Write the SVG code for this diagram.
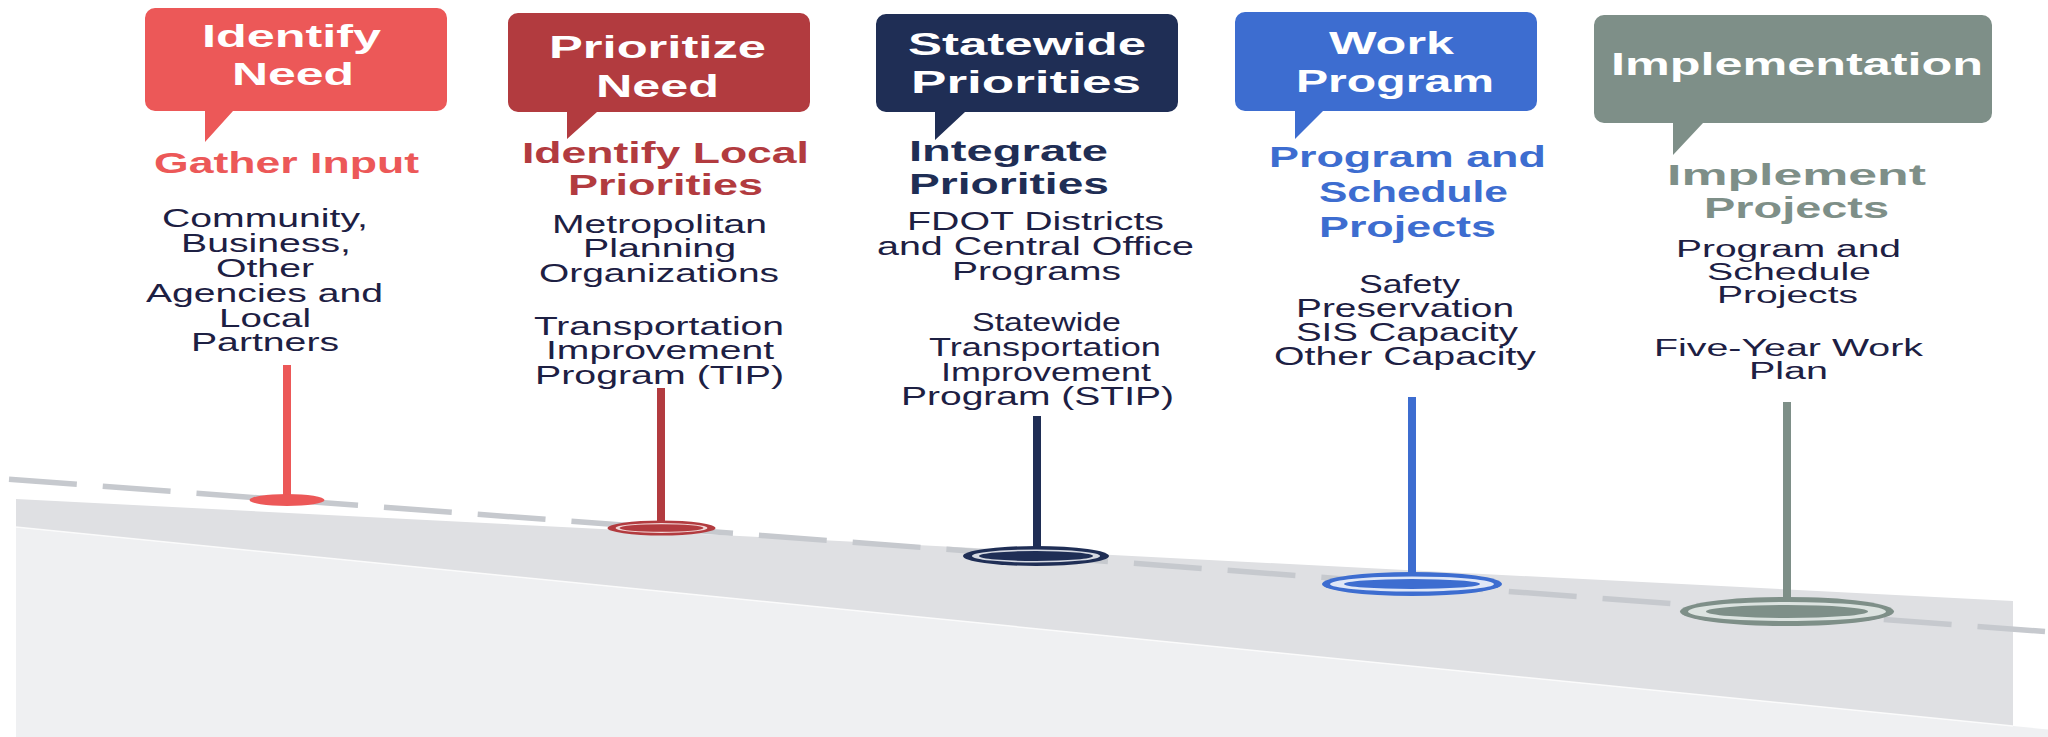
<svg xmlns="http://www.w3.org/2000/svg" width="2048" height="737" viewBox="0 0 2048 737">
<style>
.ttl{font-family:"Liberation Sans",Arial,sans-serif;font-weight:bold;font-size:31px;fill:#fff;text-anchor:middle}
.sub{font-family:"Liberation Sans",Arial,sans-serif;font-weight:bold;font-size:29.5px;text-anchor:middle}
.body{font-family:"Liberation Sans",Arial,sans-serif;font-size:25.5px;fill:#1d2043;text-anchor:middle}
.tight{font-size:23.5px}
.stem{stroke-width:8;fill:none}
.c1{fill:#ec5858}.s1{stroke:#ec5858}
.c2{fill:#b23b3f}.s2{stroke:#b23b3f}
.c3{fill:#1f2e55}.s3{stroke:#1f2e55}
.c4{fill:#3d6dd0}.s4{stroke:#3d6dd0}
.c5{fill:#7e8f88}.s5{stroke:#7e8f88}
</style>
<rect x="0" y="0" width="2048" height="737" fill="#ffffff"/>
<g id="road">
<polygon points="16,527 2013,726 2048,729.5 2048,737 16,737" fill="#eff0f2"/>
<polygon points="16,499 2013,601 2013,726 16,527" fill="#dfe0e3"/>
<line x1="16" y1="527" x2="2013" y2="726" stroke="#ffffff" stroke-width="1.5" opacity="0.8"/>
<line x1="9" y1="479.2" x2="2045" y2="631.5" stroke="#c6c9ce" stroke-width="5.5" stroke-dasharray="68 26"/>
</g>
<g id="connectors">
<line class="stem s1" x1="287" y1="365" x2="287" y2="500"/>
<line class="stem s2" x1="661" y1="388" x2="661" y2="528"/>
<line class="stem s3" x1="1037" y1="416" x2="1037" y2="556"/>
<line class="stem s4" x1="1412" y1="397" x2="1412" y2="584"/>
<line class="stem s5" x1="1787" y1="402" x2="1787" y2="611"/>
</g>
<g id="pins">
<ellipse class="c1" cx="287" cy="500" rx="37.5" ry="6"/>
<ellipse class="c2" cx="661.5" cy="528" rx="54" ry="7.5"/>
<ellipse fill="#f1d6d6" cx="661.5" cy="528" rx="46" ry="5"/>
<ellipse class="c2" cx="661.5" cy="528" rx="42" ry="3.8"/>
<ellipse class="c3" cx="1036" cy="556" rx="73" ry="10"/>
<ellipse fill="#d5d9e2" cx="1036" cy="556" rx="64" ry="6.5"/>
<ellipse class="c3" cx="1036" cy="556" rx="57" ry="5"/>
<ellipse class="c4" cx="1412" cy="584" rx="90" ry="12"/>
<ellipse fill="#dfe7f7" cx="1412" cy="584" rx="82" ry="7.5"/>
<ellipse class="c4" cx="1412" cy="584" rx="68" ry="5"/>
<ellipse class="c5" cx="1787" cy="611.5" rx="107" ry="14.5"/>
<ellipse fill="#dce3e0" cx="1787" cy="611.5" rx="99" ry="9.5"/>
<ellipse class="c5" cx="1787" cy="611.5" rx="81" ry="6.5"/>
</g>
<g id="node-identify-need">
<path class="c1" d="M155,8 H437 A10,10 0 0 1 447,18 V101 A10,10 0 0 1 437,111 H233 L205,142 V111 H155 A10,10 0 0 1 145,101 V18 A10,10 0 0 1 155,8 Z"/>
<text class="ttl" x="291.5" y="47" textLength="179" lengthAdjust="spacingAndGlyphs">Identify</text>
<text class="ttl" x="293" y="85" textLength="122" lengthAdjust="spacingAndGlyphs">Need</text>
<text class="sub c1" x="286.5" y="173" textLength="265" lengthAdjust="spacingAndGlyphs">Gather Input</text>
<text class="body" x="265" y="227" textLength="206" lengthAdjust="spacingAndGlyphs">Community,</text>
<text class="body" x="266" y="252" textLength="170" lengthAdjust="spacingAndGlyphs">Business,</text>
<text class="body" x="265" y="277" textLength="98" lengthAdjust="spacingAndGlyphs">Other</text>
<text class="body" x="264.5" y="302" textLength="237" lengthAdjust="spacingAndGlyphs">Agencies and</text>
<text class="body" x="265" y="327" textLength="92" lengthAdjust="spacingAndGlyphs">Local</text>
<text class="body" x="265" y="351" textLength="148" lengthAdjust="spacingAndGlyphs">Partners</text>
</g>
<g id="node-prioritize-need">
<path class="c2" d="M518,13 H800 A10,10 0 0 1 810,23 V102 A10,10 0 0 1 800,112 H597 L567,139 V112 H518 A10,10 0 0 1 508,102 V23 A10,10 0 0 1 518,13 Z"/>
<text class="ttl" x="657.5" y="58" textLength="217" lengthAdjust="spacingAndGlyphs">Prioritize</text>
<text class="ttl" x="657.5" y="97" textLength="123" lengthAdjust="spacingAndGlyphs">Need</text>
<text class="sub c2" x="665.5" y="163" textLength="287" lengthAdjust="spacingAndGlyphs">Identify Local</text>
<text class="sub c2" x="665.5" y="195" textLength="195" lengthAdjust="spacingAndGlyphs">Priorities</text>
<text class="body" x="659.5" y="233" textLength="215" lengthAdjust="spacingAndGlyphs">Metropolitan</text>
<text class="body" x="659.5" y="257" textLength="153" lengthAdjust="spacingAndGlyphs">Planning</text>
<text class="body" x="659" y="282" textLength="240" lengthAdjust="spacingAndGlyphs">Organizations</text>
<text class="body" x="659" y="335" textLength="250" lengthAdjust="spacingAndGlyphs">Transportation</text>
<text class="body" x="660" y="359" textLength="228" lengthAdjust="spacingAndGlyphs">Improvement</text>
<text class="body" x="659.5" y="384" textLength="249" lengthAdjust="spacingAndGlyphs">Program (TIP)</text>
</g>
<g id="node-statewide-priorities">
<path class="c3" d="M886,14 H1168 A10,10 0 0 1 1178,24 V102 A10,10 0 0 1 1168,112 H965 L935,140 V112 H886 A10,10 0 0 1 876,102 V24 A10,10 0 0 1 886,14 Z"/>
<text class="ttl" x="1027" y="55" textLength="238" lengthAdjust="spacingAndGlyphs">Statewide</text>
<text class="ttl" x="1026" y="93" textLength="230" lengthAdjust="spacingAndGlyphs">Priorities</text>
<text class="sub c3" x="1008.5" y="161" textLength="199" lengthAdjust="spacingAndGlyphs">Integrate</text>
<text class="sub c3" x="1009" y="194" textLength="200" lengthAdjust="spacingAndGlyphs">Priorities</text>
<text class="body" x="1035.5" y="230" textLength="257" lengthAdjust="spacingAndGlyphs">FDOT Districts</text>
<text class="body" x="1035.5" y="255" textLength="317" lengthAdjust="spacingAndGlyphs">and Central Office</text>
<text class="body" x="1036.5" y="280" textLength="169" lengthAdjust="spacingAndGlyphs">Programs</text>
<text class="body" x="1046.5" y="331" textLength="149" lengthAdjust="spacingAndGlyphs">Statewide</text>
<text class="body" x="1045" y="356" textLength="232" lengthAdjust="spacingAndGlyphs">Transportation</text>
<text class="body" x="1046" y="381" textLength="210" lengthAdjust="spacingAndGlyphs">Improvement</text>
<text class="body" x="1037.5" y="405" textLength="273" lengthAdjust="spacingAndGlyphs">Program (STIP)</text>
</g>
<g id="node-work-program">
<path class="c4" d="M1245,12 H1527 A10,10 0 0 1 1537,22 V101 A10,10 0 0 1 1527,111 H1323 L1295,139 V111 H1245 A10,10 0 0 1 1235,101 V22 A10,10 0 0 1 1245,12 Z"/>
<text class="ttl" x="1391.5" y="54" textLength="125" lengthAdjust="spacingAndGlyphs">Work</text>
<text class="ttl" x="1395" y="92" textLength="198" lengthAdjust="spacingAndGlyphs">Program</text>
<text class="sub c4" x="1407.5" y="167" textLength="277" lengthAdjust="spacingAndGlyphs">Program and</text>
<text class="sub c4" x="1413.5" y="202" textLength="189" lengthAdjust="spacingAndGlyphs">Schedule</text>
<text class="sub c4" x="1407.5" y="237" textLength="177" lengthAdjust="spacingAndGlyphs">Projects</text>
<text class="body" x="1409.5" y="293" textLength="101" lengthAdjust="spacingAndGlyphs">Safety</text>
<text class="body" x="1405" y="317" textLength="218" lengthAdjust="spacingAndGlyphs">Preservation</text>
<text class="body" x="1407" y="341" textLength="222" lengthAdjust="spacingAndGlyphs">SIS Capacity</text>
<text class="body" x="1405" y="365" textLength="262" lengthAdjust="spacingAndGlyphs">Other Capacity</text>
</g>
<g id="node-implementation">
<path class="c5" d="M1604,15 H1982 A10,10 0 0 1 1992,25 V113 A10,10 0 0 1 1982,123 H1703 L1673,155 V123 H1604 A10,10 0 0 1 1594,113 V25 A10,10 0 0 1 1604,15 Z"/>
<text class="ttl" x="1797" y="75" textLength="372" lengthAdjust="spacingAndGlyphs">Implementation</text>
<text class="sub c5" x="1796.5" y="185" textLength="259" lengthAdjust="spacingAndGlyphs">Implement</text>
<text class="sub c5" x="1796.5" y="218" textLength="185" lengthAdjust="spacingAndGlyphs">Projects</text>
<text class="body tight" x="1788.5" y="257" textLength="225" lengthAdjust="spacingAndGlyphs">Program and</text>
<text class="body tight" x="1789" y="280" textLength="164" lengthAdjust="spacingAndGlyphs">Schedule</text>
<text class="body tight" x="1787.5" y="303" textLength="141" lengthAdjust="spacingAndGlyphs">Projects</text>
<text class="body tight" x="1788.5" y="356" textLength="269" lengthAdjust="spacingAndGlyphs">Five-Year Work</text>
<text class="body tight" x="1788.5" y="379" textLength="79" lengthAdjust="spacingAndGlyphs">Plan</text>
</g>
</svg>
